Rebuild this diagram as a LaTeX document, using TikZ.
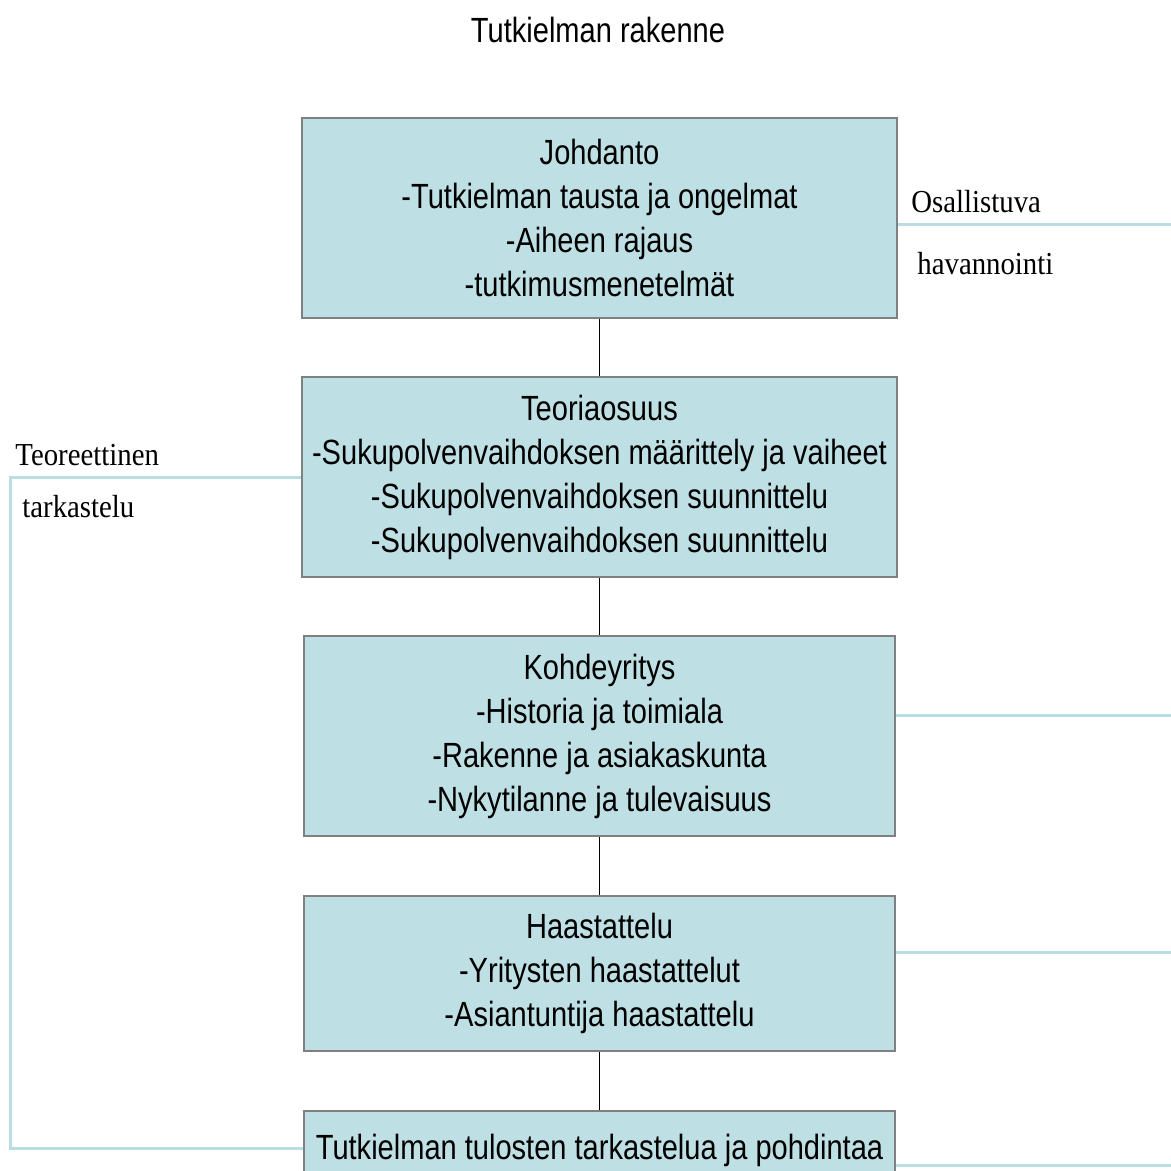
\documentclass[tikz,border=0pt]{standalone}
\usepackage{fontspec}
\newfontfamily\boxfont[FakeStretch=0.83]{Liberation Sans}
\newfontfamily\labelfont[FakeStretch=0.9]{Liberation Serif}
\definecolor{boxfill}{RGB}{190,224,228}
\definecolor{boxedge}{RGB}{128,128,128}
\definecolor{linkblue}{RGB}{184,221,226}
\usetikzlibrary{positioning}

\begin{document}
\begin{tikzpicture}[x=0.5pt, y=-0.5pt]
        \tikzset{part/.style={rectangle, draw=boxedge, line width=1pt, fill=boxfill,
            align=center, inner sep=0pt, font=\boxfont\fontsize{17.5}{22}\selectfont},
            side/.style={linkblue, line width=1.5pt},
            note/.style={anchor=base west, inner sep=0pt, font=\labelfont\fontsize{16}{19}\selectfont}}
        \useasboundingbox (0,0) rectangle (1171,1171);
        \clip (0,0) rectangle (1171,1171);
        % Title
        \node[font=\boxfont\fontsize{17.5}{22}\selectfont, anchor=base] (title) at (598,43) {Tutkielman rakenne};
        % Chapters
        \node[part, minimum width=297.5pt, minimum height=100pt] (johd) at (599.5,218)
            {Johdanto\\-Tutkielman tausta ja ongelmat\\-Aiheen rajaus\\-tutkimusmenetelmät};
        \node[part, minimum width=297.5pt, minimum height=100pt] (teor) at (599.5,477)
            {Teoriaosuus\\-Sukupolvenvaihdoksen määrittely ja vaiheet\\-Sukupolvenvaihdoksen suunnittelu\\-Sukupolvenvaihdoksen suunnittelu};
        \node[part, minimum width=295.5pt, minimum height=100pt] (kohde) at (599.5,736)
            {Kohdeyritys\\-Historia ja toimiala\\-Rakenne ja asiakaskunta\\-Nykytilanne ja tulevaisuus};
        \node[part, minimum width=295.5pt, minimum height=77.5pt] (haast) at (599.5,973.5)
            {Haastattelu\\-Yritysten haastattelut\\-Asiantuntija haastattelu};
        \node[part, minimum width=295.5pt, minimum height=39pt] (tulos) at (599.5,1150)
            {Tutkielman tulosten tarkastelua ja pohdintaa};
        % Links between chapters
        \draw[line width=0.8pt] (johd) -- (teor);
        \draw[line width=0.8pt] (teor) -- (kohde);
        \draw[line width=0.8pt] (kohde) -- (haast);
        \draw[line width=0.8pt] (haast) -- (tulos);
        % Right side lines
        \coordinate (r1) at (1171,225);
        \coordinate (r3) at (1171,715);
        \coordinate (r4) at (1171,952);
        \coordinate (r5) at (1171,1165);
        \draw[side] (johd.east |- r1) -- (r1);
        \draw[side] (kohde.east |- r3) -- (r3);
        \draw[side] (haast.east |- r4) -- (r4);
        \draw[side] (tulos.east |- r5) -- (r5);
        % Left bracket
        \coordinate (l1) at (10,477);
        \coordinate (l2) at (10,1148);
        \draw[side] (teor.west) -- (l1) -- (l2) -- (tulos.west |- l2);
        % Side labels
        \node[note] (osal) at (911,213) {Osallistuva};
        \node[note] (hava) at (917,275) {havannointi};
        \node[note] (teoret) at (15,465) {Teoreettinen};
        \node[note] (tark) at (22,517) {tarkastelu};
      \end{tikzpicture}
\end{document}
